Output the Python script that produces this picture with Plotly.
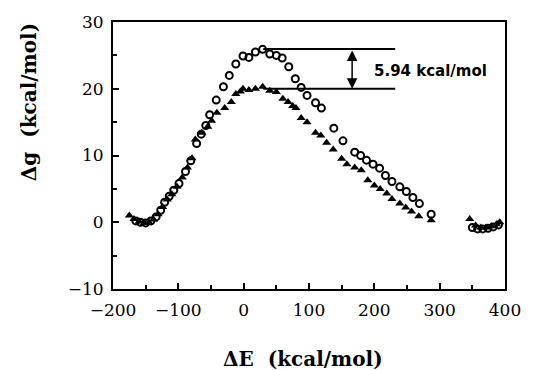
import plotly.graph_objects as go

# Open circles series
circ_x = [-165, -158, -150, -142, -134, -127, -121, -114, -107, -99, -89, -81, -72, -65, -58, -52,
          -42, -31, -22, -12, -1, 8, 18, 29, 40, 50, 59, 69, 79, 88, 97, 110, 119, 138, 152,
          170, 179, 188, 198, 208, 217, 227, 239, 249, 259, 269, 287,
          350, 358, 366, 374, 382, 390]
circ_y = [0.2, 0.0, -0.1, 0.2, 0.8, 1.8, 3.0, 3.9, 4.8, 5.8, 7.6, 9.2, 11.8, 13.2, 14.5, 16.1,
          18.3, 20.3, 22.0, 23.7, 24.9, 24.7, 25.5, 25.9, 25.2, 25.0, 24.6, 23.3, 21.5, 20.2, 19.0, 17.9, 17.1, 14.1, 12.2,
          10.5, 10.0, 9.3, 8.7, 8.1, 7.0, 6.1, 5.3, 4.6, 3.7, 2.8, 1.2,
          -0.8, -1.0, -1.0, -0.9, -0.7, -0.4]

# Filled triangles series
tri_x = [-175, -168, -160, -152, -145, -138, -131, -124, -117, -110, -102, -94, -86, -79, -74, -64,
         -55, -49, -41, -29, -19, -12, -5, -1, 8, 18, 29, 40, 50, 60, 68, 75, 80, 88, 97, 110, 118,
         127, 137, 150, 158, 170, 180, 190, 200, 209, 219, 227, 239, 248, 257, 268, 287,
         346, 355, 363, 371, 379, 387, 392]
tri_y = [1.0, 0.5, 0.1, -0.1, 0.0, 0.4, 1.2, 2.3, 3.4, 4.2, 5.3, 6.7, 8.2, 9.6, 12.4, 13.4,
         14.3, 15.2, 16.4, 17.1, 18.0, 19.2, 19.6, 20.0, 19.8, 20.0, 20.3, 19.7, 19.5, 18.5, 18.0, 17.4, 17.1, 15.6, 15.0, 13.4, 13.0,
         11.9, 10.9, 9.5, 8.7, 8.2, 7.8, 6.3, 5.5, 5.0, 4.3, 3.5, 2.8, 2.2, 1.6, 0.9, 0.3,
         0.5, -0.5, -0.8, -0.8, -0.6, -0.3, 0.0]

x_ticks = [-200, -100, 0, 100, 200, 300, 400]
y_ticks = [-10, 0, 10, 20, 30]

gap_top = 25.94
gap_bottom = 20.0
gap_line_x = [30, 232]
arrow_x = 166
gap_label = "5.94 kcal/mol"

fig = go.Figure()
fig.add_trace(go.Scatter(x=circ_x, y=circ_y, mode="markers",
                         marker=dict(symbol="circle-open", size=7, color="black", line=dict(width=2, color="black")),
                         showlegend=False))
fig.add_trace(go.Scatter(x=tri_x, y=tri_y, mode="markers",
                         marker=dict(symbol="triangle-up", size=8, color="black"),
                         showlegend=False))

for yv in (gap_top, gap_bottom):
    fig.add_shape(type="line", xref="x", yref="y", x0=gap_line_x[0], x1=gap_line_x[1], y0=yv, y1=yv,
                  line=dict(color="black", width=2))

fig.add_annotation(x=arrow_x, y=gap_bottom, ax=arrow_x, ay=gap_top, xref="x", yref="y", axref="x", ayref="y",
                   text="", showarrow=True, arrowhead=2, arrowside="end+start", arrowwidth=1.5, arrowcolor="black",
                   arrowsize=1.4)
fig.add_annotation(x=196, y=22.7, xref="x", yref="y", text="<b>" + gap_label + "</b>", showarrow=False,
                   xanchor="left", yanchor="middle", font=dict(family="DejaVu Sans", size=15, color="black"))

fig.add_annotation(x=-0.214, y=0.70, xref="paper", yref="paper", text="<b>Δg  (kcal/mol)</b>", showarrow=False,
                   textangle=-90, xanchor="center", yanchor="middle",
                   font=dict(family="DejaVu Serif", size=20, color="black"))
fig.add_annotation(x=0.484, y=-0.261, xref="paper", yref="paper", text="<b>ΔE  (kcal/mol)</b>", showarrow=False,
                   xanchor="center", yanchor="middle",
                   font=dict(family="DejaVu Serif", size=20, color="black"))

axis_common = dict(showgrid=False, zeroline=False, showline=True, linecolor="black", linewidth=2, mirror=True,
                   ticks="inside", ticklen=6, tickwidth=1.5, tickcolor="black",
                   tickfont=dict(family="DejaVu Serif", size=17, color="black"))
fig.update_xaxes(range=[-200, 400], tickvals=x_ticks, ticktext=[str(v).replace("-", "−") for v in x_ticks],
                 minor=dict(dtick=50, ticks="inside", ticklen=4, tickcolor="black"),
                 ticklabelstandoff=5, **axis_common)
fig.update_yaxes(range=[-10, 30], tickvals=y_ticks, ticktext=[str(v).replace("-", "−") for v in y_ticks],
                 minor=dict(dtick=5, ticks="inside", ticklen=4, tickcolor="black"),
                 ticklabelstandoff=4, **axis_common)

fig.update_layout(width=533, height=370, margin=dict(l=113, r=19, t=17, b=81),
                  plot_bgcolor="white", paper_bgcolor="white")
fig.write_html("out.html")
